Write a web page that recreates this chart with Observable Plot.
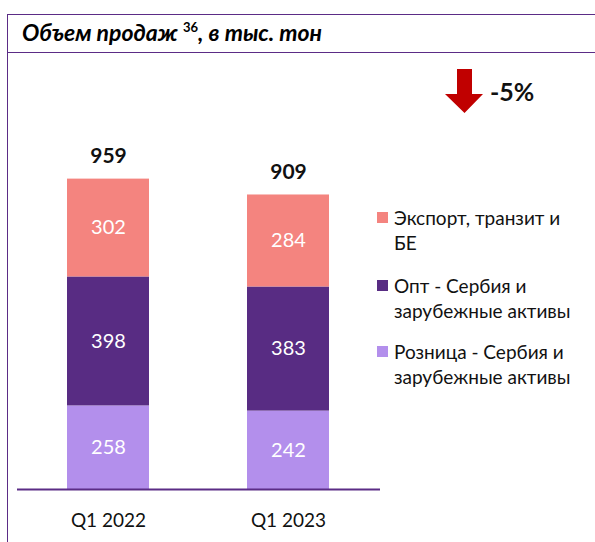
<!DOCTYPE html>
<html><head><meta charset="utf-8">
<script src="https://cdn.jsdelivr.net/npm/d3@7"></script>
<script src="https://cdn.jsdelivr.net/npm/@observablehq/plot@0.6"></script>
<style>
html,body{margin:0;padding:0;background:#fff;}
#wrap{position:relative;width:595px;height:542px;overflow:hidden;font-family:Lato,"Open Sans",sans-serif;}
#frame{position:absolute;left:7px;top:14px;width:600px;height:540px;border-left:1.5px solid #5B2C86;border-top:1.5px solid #5B2C86;}
#title{position:absolute;left:7px;top:14px;width:600px;height:38px;border-bottom:1.5px solid #5B2C86;}
#title span.t{position:absolute;left:15px;top:4px;font-weight:700;font-style:italic;font-size:23px;color:#000;white-space:nowrap;}
#title sup{font-size:13px;font-style:normal;vertical-align:9px;line-height:0;}
#chart{position:absolute;left:0;top:0;}
#legend{position:absolute;left:377px;top:205px;font-size:19px;color:#111;}
.li{position:absolute;left:0;white-space:nowrap;line-height:25px;}
.li .sw{position:absolute;left:0;top:7px;width:11px;height:11px;}
.li .tx{position:absolute;left:17px;top:0;}
#arrow{position:absolute;left:444px;top:69px;}
#pct{position:absolute;left:490px;top:76px;font-weight:700;font-size:25px;color:#111;}
</style>
</head><body>
<div id="wrap">
  <div id="frame"></div>
  <div id="title"><span class="t">Объем продаж <sup>36</sup>, в тыс. тон</span></div>
  <div id="chart"></div>
  <svg id="arrow" width="40" height="45" viewBox="0 0 40 45"><polygon points="13,0 28,0 28,25 39,25 20.5,44 1,25 13,25" fill="#C00000"/></svg>
  <div id="pct">-5%</div>
  <div id="legend"></div>
</div>
<script>
const categories = ["Q1 2022", "Q1 2023"];
const seriesNames = ["Розница - Сербия и зарубежные активы", "Опт - Сербия и зарубежные активы", "Экспорт, транзит и БЕ"];
const retailValues = [258, 242];
const wholesaleValues = [398, 383];
const exportValues = [302, 284];
const totalValues = [959, 909];
const seriesColors = ["#B38FEC", "#582C83", "#F4847F"];
const legendLines = [["Экспорт, транзит и", "БЕ"], ["Опт - Сербия и", "зарубежные активы"], ["Розница - Сербия и", "зарубежные активы"]];

const seriesValues = [retailValues, wholesaleValues, exportValues];
const rows = [];
categories.forEach((c, i) => {
  seriesNames.forEach((s, j) => rows.push({cat: c, series: s, value: seriesValues[j][i]}));
});
const totals = categories.map((c, i) => ({cat: c, total: totalValues[i]}));

const chart = Plot.plot({
  width: 595, height: 542,
  marginLeft: 17, marginRight: 215, marginTop: 165, marginBottom: 53,
  style: {fontFamily: "Lato, 'Open Sans', sans-serif", background: "transparent"},
  x: {domain: categories, paddingInner: 0.544, paddingOuter: 0.28, axis: null},
  y: {domain: [0, 1000], axis: null},
  color: {domain: seriesNames, range: seriesColors},
  marks: [
    Plot.barY(rows, {x: "cat", y: "value", fill: "series", insetLeft: 0, insetRight: 0}),
    Plot.text(rows, Plot.stackY({x: "cat", y: "value", text: d => String(d.value), fill: "white", fontSize: 20})),
    Plot.ruleY([0], {stroke: "#5B2C86", strokeWidth: 2}),
    Plot.text(totals, {x: "cat", y: "total", text: d => String(d.total), dy: -23, fontSize: 21, fontWeight: 700, fill: "#111"}),
    Plot.text(categories, {x: d => d, y: () => 0, text: d => d, dy: 31, fontSize: 19, fill: "#111"})
  ]
});
document.getElementById("chart").appendChild(chart);

const lg = document.getElementById("legend");
const tops = [0, 68, 134];
legendLines.forEach((lines, i) => {
  const it = document.createElement("div");
  it.className = "li";
  it.style.top = tops[i] + "px";
  it.innerHTML = `<div class="sw" style="background:${seriesColors[2 - i]}"></div><div class="tx">${lines.join("<br>")}</div>`;
  lg.appendChild(it);
});
</script>
</body></html>
